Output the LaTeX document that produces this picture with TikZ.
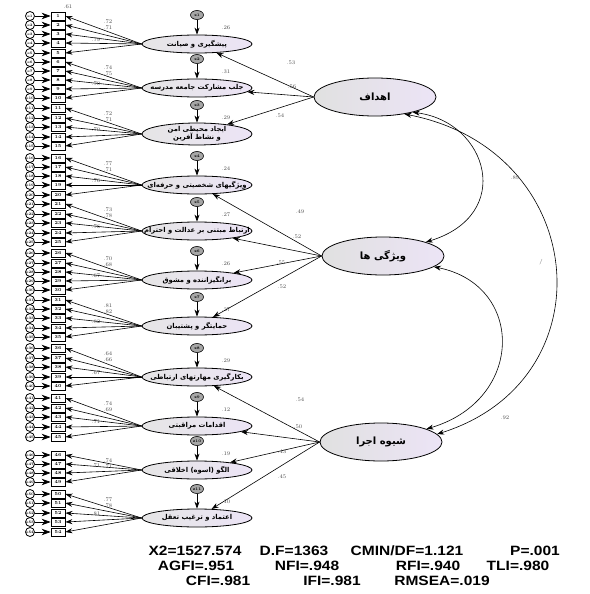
\documentclass[tikz,border=0pt]{standalone}
\usepackage{fontspec}
\usetikzlibrary{shapes.geometric,arrows.meta}
\TeXXeTstate=1
\newfontfamily\fa[Script=Arabic]{DejaVu Sans}
\newfontfamily\lsans{Liberation Sans}
\definecolor{lavr}{RGB}{236,228,246}
\newcounter{ind}
\begin{document}
\begin{tikzpicture}[x=1pt,y=-1pt,line width=0.6pt,
  errc/.style={circle,draw,line width=0.8pt,minimum size=9pt,inner sep=0pt,font=\bfseries\fontsize{3.6}{4}\selectfont},
  indbox/.style={rectangle,draw,line width=0.8pt,minimum width=14pt,minimum height=8pt,inner sep=0pt,font=\bfseries\fontsize{4.5}{5}\selectfont},
  fof/.style={ellipse,draw,line width=0.8pt,minimum width=110pt,minimum height=18pt,inner sep=0pt,left color=black!10,right color=lavr},
  sof/.style={ellipse,draw,line width=0.8pt,minimum width=122pt,minimum height=38pt,inner sep=0pt,left color=black!12,right color=lavr},
  ftext/.style={font=\fa\bfseries\fontsize{6.8}{8}\selectfont,align=center,inner sep=0pt},
  stext/.style={font=\fa\bfseries\fontsize{10}{11}\selectfont,inner sep=0pt},
  dist/.style={ellipse,draw,minimum width=13pt,minimum height=9pt,inner sep=0pt,fill=black!35,font=\bfseries\fontsize{3.8}{4}\selectfont},
  arr/.style={-{Stealth[length=7pt,width=5pt]}},
  earr/.style={-{Stealth[length=9pt,width=6.5pt]}},
  darr/.style={{Stealth[length=7pt,width=5pt]}-{Stealth[length=7pt,width=5pt]}},
  lbl/.style={font=\fontsize{5.5}{6}\selectfont,text=black!70,inner sep=0pt},
  stat/.style={font=\lsans\bfseries\fontsize{13.5}{14}\selectfont,inner sep=0pt}]
\useasboundingbox (0,0) rectangle (589,594);

% second-order factors
\node[sof] (H) at (375,97) {};
\node[stext] at (H) {\beginR اهداف\endR};
\node[sof] (V) at (383,256) {};
\node[stext] at (V) {\beginR ویژگی ها\endR};
\node[sof] (S) at (381,442) {};
\node[stext] at (S) {\beginR شیوه اجرا\endR};

% first-order factors
\foreach \g/\ey/\h in {1/44/18,2/88/18,3/134/22,4/185/18,5/231/18,6/280/18,7/326/18,8/377/18,9/426/18,10/470/18,11/518/18}{
  \node[fof,minimum height=\h pt] (f\g) at (197,\ey) {};
}
\node[ftext] at (f1) {\beginR پیشگیری و صیانت\endR};
\node[ftext] at (f2) {\beginR جلب مشارکت جامعه مدرسه\endR};
\node[ftext] at (f3) {\beginR ایجاد محیطی امن\endR\\[-1.5pt]\beginR و نشاط آفرین\endR};
\node[ftext] at (f4) {\beginR ویژگیهای شخصیتی و حرفه‌ای\endR};
\node[ftext] at (f5) {\beginR ارتباط مبتنی بر عدالت و احترام\endR};
\node[ftext] at (f6) {\beginR برانگیزاننده و مشوق\endR};
\node[ftext] at (f7) {\beginR حمایتگر و پشتیبان\endR};
\node[ftext] at (f8) {\beginR بکارگیری مهارتهای ارتباطی\endR};
\node[ftext] at (f9) {\beginR اقدامات مراقبتی\endR};
\node[ftext] at (f10) {\beginR الگو (اسوه) اخلاقی\endR};
\node[ftext] at (f11) {\beginR اعتماد و ترغیب تعقل\endR};

% disturbances
\foreach \g/\ey/\r in {1/44/.26,2/88/.31,3/134/.29,4/185/.24,5/231/.27,6/280/.26,7/326/.27,8/377/.29,9/426/.12,10/470/.19,11/518/.10}{
  \node[dist] (z\g) at (197,\ey-29) {z\g};
  \draw[arr] (z\g) -- (f\g);
  \node[lbl] at (226,\ey-16) {\r};
}

% indicators
\foreach \g/\ey/\tp/\rows/\la/\lb/\lc in {
 1/44/16/{16,25,34,43,53}/.72/.71/.79,
 2/88/62/{62,71,80,89,98}/.74/.75/.70,
 3/134/108/{108,118,127,137,146}/.72/.71/.70,
 4/185/158/{158,167,176,185,195}/.77/.71/.76,
 5/231/204/{204,214,223,233,242}/.73/.78/.76,
 6/280/253/{253,263,272,281,290}/.70/.68/.67,
 7/326/300/{300,309,318,328,337}/.81/.82/.82,
 8/377/348/{348,358,367,377,386}/.64/.66/.67,
 9/426/398/{398,408,417,427,437}/.74/.69/.71,
 10/470/455/{455,464,473,482}/.74/.71/.71,
 11/518/494/{494,503,513,522,532}/.77/.78/.81}{
  \foreach \r in \rows {
    \stepcounter{ind}
    \node[errc] (e\theind) at (30,\r) {e\theind};
    \node[indbox] (q\theind) at (58,\r) {\theind};
    \draw[earr] (e\theind) -- (q\theind);
    \draw[arr] (f\g.west) -- (q\theind.east);
  }
  \node[lbl] at (108,\tp+6) {\la};
  \node[lbl] at (108,\tp+12) {\lb};
  \node[lbl] at (96,\ey-4) {\lc};
}
\node[lbl] at (68,7) {.61};

% second-order loadings
\foreach \f/\x/\y/\l in {1/291/63/.53,2/292/87/.56,3/280/116/.54}{
  \draw[arr] (H.west) -- (f\f);
  \node[lbl] at (\x,\y) {\l};
}
\foreach \f/\x/\y/\l in {4/300/212/.49,5/297/237/.52,6/281/263/.55,7/282/287/.52}{
  \draw[arr] (V.west) -- (f\f);
  \node[lbl] at (\x,\y) {\l};
}
\foreach \f/\x/\y/\l in {8/300/400/.54,9/298/427/.50,10/282/452/.43,11/282/477/.45}{
  \draw[arr] (S.west) -- (f\f);
  \node[lbl] at (\x,\y) {\l};
}

% correlations
\draw[darr] (H.-22) .. controls (488,122) and (515,215) .. (V.18);
\draw[darr] (V.-12) .. controls (525,285) and (525,400) .. (S.16);
\draw[darr] (H.-30) .. controls (590,150) and (610,380) .. (S.8);
\node[lbl] at (515,178) {.89};
\node[lbl] at (505,418) {.92};
\node[lbl] at (541,262) {/};

% fit statistics
\node[stat] (s1) at (195,551) {\scalebox{1.15}[1]{X2=1527.574}};
\node[stat] (s2) at (294,551) {\scalebox{1.15}[1]{D.F=1363}};
\node[stat] (s3) at (407,551) {\scalebox{1.15}[1]{CMIN/DF=1.121}};
\node[stat] (s4) at (535,551) {\scalebox{1.15}[1]{P=.001}};
\node[stat] (s5) at (196,566) {\scalebox{1.15}[1]{AGFI=.951}};
\node[stat] (s6) at (307,566) {\scalebox{1.15}[1]{NFI=.948}};
\node[stat] (s7) at (428,566) {\scalebox{1.15}[1]{RFI=.940}};
\node[stat] (s8) at (518,566) {\scalebox{1.15}[1]{TLI=.980}};
\node[stat] (s9) at (218,581) {\scalebox{1.15}[1]{CFI=.981}};
\node[stat] (s10) at (332,581) {\scalebox{1.15}[1]{IFI=.981}};
\node[stat] (s11) at (442,581) {\scalebox{1.15}[1]{RMSEA=.019}};
\end{tikzpicture}
\end{document}
